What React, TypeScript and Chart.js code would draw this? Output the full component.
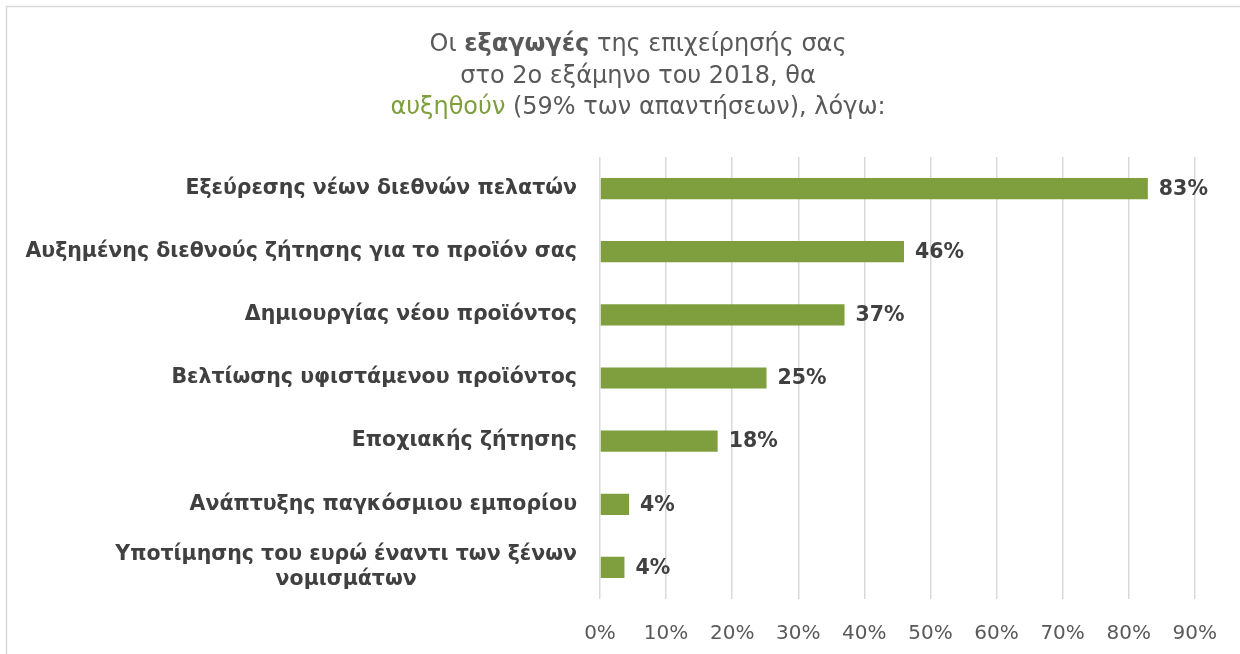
import React, { useEffect, useRef } from "react";
import { Chart, registerables } from "chart.js";

Chart.register(...registerables);

const categories: string[][] = [
  ["Εξεύρεσης νέων διεθνών πελατών"],
  ["Αυξημένης διεθνούς ζήτησης για το προϊόν σας"],
  ["Δημιουργίας νέου προϊόντος"],
  ["Βελτίωσης υφιστάμενου προϊόντος"],
  ["Εποχιακής ζήτησης"],
  ["Ανάπτυξης παγκόσμιου εμπορίου"],
  ["Υποτίμησης του ευρώ έναντι των ξένων", "νομισμάτων"],
];
const values: number[] = [82.9, 46, 37, 25.2, 17.8, 4.4, 3.7];
const valueLabels: string[] = ["83%", "46%", "37%", "25%", "18%", "4%", "4%"];
const titleLines: { text: string; bold?: boolean; color?: string }[][] = [
  [{ text: "Οι " }, { text: "εξαγωγές", bold: true }, { text: " της επιχείρησής σας" }],
  [{ text: "στο 2ο εξάμηνο του 2018, θα" }],
  [{ text: "αυξηθούν", color: "#7f9f3f" }, { text: " (59% των απαντήσεων), λόγω:" }],
];

const FONT = "'DejaVu Sans', 'Noto Sans', sans-serif";
const GRAY = "#595959";
const DARK = "#404040";
const GREEN = "#7f9f3f";

const framePlugin = {
  id: "frame",
  beforeDraw(chart: any) {
    const ctx = chart.ctx;
    ctx.save();
    ctx.fillStyle = "#ffffff";
    ctx.fillRect(0, 0, chart.width, chart.height);
    ctx.strokeStyle = "#d9d9d9";
    ctx.lineWidth = 1.5;
    ctx.strokeRect(6.5, 6.5, chart.width + 20, chart.height + 20);
    ctx.restore();
  },
};

const titlePlugin = {
  id: "richTitle",
  afterDraw(chart: any) {
    const ctx = chart.ctx;
    ctx.save();
    ctx.textBaseline = "middle";
    const cx = 638;
    const ys = [45, 77, 108];
    const size = 24;
    titleLines.forEach((segs, i) => {
      let total = 0;
      const widths = segs.map((s) => {
        ctx.font = `${s.bold ? "bold" : "normal"} ${size}px ${FONT}`;
        const w = ctx.measureText(s.text).width;
        total += w;
        return w;
      });
      let x = cx - total / 2;
      segs.forEach((s, j) => {
        ctx.font = `${s.bold ? "bold" : "normal"} ${size}px ${FONT}`;
        ctx.fillStyle = s.color || GRAY;
        ctx.textAlign = "left";
        ctx.fillText(s.text, x, ys[i]);
        x += widths[j];
      });
    });
    ctx.restore();
  },
};

const yLabelPlugin = {
  id: "yLabels",
  afterDraw(chart: any) {
    const ctx = chart.ctx;
    const yScale = chart.scales.y;
    const right = 577;
    const lh = 25;
    ctx.save();
    ctx.font = `bold 20.5px ${FONT}`;
    ctx.fillStyle = DARK;
    ctx.textBaseline = "middle";
    ctx.textAlign = "center";
    categories.forEach((lines, i) => {
      const cy = yScale.getPixelForValue(i);
      const maxW = Math.max(...lines.map((l) => ctx.measureText(l).width));
      const center = right - maxW / 2;
      const startY = cy - ((lines.length - 1) * lh) / 2;
      lines.forEach((l, k) => ctx.fillText(l, center, startY + k * lh));
    });
    ctx.restore();
  },
};

const valueLabelPlugin = {
  id: "valueLabels",
  afterDatasetsDraw(chart: any) {
    const ctx = chart.ctx;
    const meta = chart.getDatasetMeta(0);
    ctx.save();
    ctx.font = `bold 20.5px ${FONT}`;
    ctx.fillStyle = DARK;
    ctx.textBaseline = "middle";
    ctx.textAlign = "left";
    meta.data.forEach((bar: any, i: number) => {
      ctx.fillText(valueLabels[i], bar.x + 11, bar.y + 1);
    });
    ctx.restore();
  },
};

export default function App() {
  const ref = useRef<HTMLCanvasElement | null>(null);
  useEffect(() => {
    document.body.style.margin = "0";
    const chart = new Chart(ref.current as HTMLCanvasElement, {
      type: "bar",
      data: {
        labels: categories.map((c) => c.join(" ")),
        datasets: [
          {
            data: values,
            backgroundColor: GREEN,
            borderWidth: 0,
            barPercentage: 0.7,
            categoryPercentage: 0.48,
          },
        ],
      },
      options: {
        indexAxis: "y",
        animation: false,
        responsive: false,
        maintainAspectRatio: false,
        layout: { padding: { top: 157, right: 45, left: 0, bottom: 0 } },
        plugins: {
          legend: { display: false },
          title: { display: false },
          tooltip: { enabled: false },
        },
        scales: {
          x: {
            min: 0,
            max: 90,
            ticks: {
              stepSize: 10,
              padding: 23,
              color: GRAY,
              font: { family: FONT, size: 20, weight: "normal" },
              callback: (v: any) => `${v}%`,
            },
            grid: { color: "#d9d9d9", lineWidth: 1.5, drawTicks: false },
            border: { display: false },
            afterFit: (s: any) => {
              s.height = 55;
            },
          },
          y: {
            ticks: { display: false },
            grid: { display: false, drawTicks: false },
            border: { display: false },
            afterFit: (s: any) => {
              s.width = 600;
            },
          },
        },
      },
      plugins: [framePlugin, titlePlugin, yLabelPlugin, valueLabelPlugin],
    } as any);
    return () => chart.destroy();
  }, []);
  return (
    <div style={{ position: "relative", width: 1240, height: 654 }}>
      <canvas ref={ref} width={1240} height={654} style={{ display: "block" }} />
    </div>
  );
}
